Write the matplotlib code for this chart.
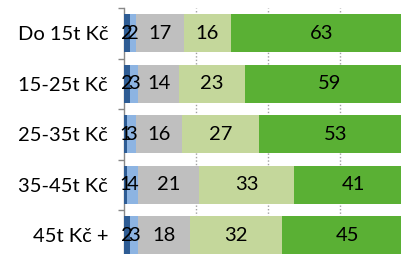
import matplotlib
matplotlib.use("Agg")
import matplotlib.pyplot as plt
import numpy as np

categories = ["Do 15t Kč", "15-25t Kč", "25-35t Kč", "35-45t Kč", "45t Kč +"]
s1 = [2, 2, 1, 1, 2]
s2 = [2, 3, 3, 4, 3]
s3 = [17, 14, 16, 21, 18]
s4 = [16, 23, 27, 33, 32]
s5 = [63, 59, 53, 41, 45]
series = [s1, s2, s3, s4, s5]
colors = ["#2E5C94", "#8DB4E2", "#BFBFBF", "#C4D79B", "#5AB034"]

plt.rcParams['font.family'] = ['Lato', 'DejaVu Sans']

W, H = 401, 254
fig = plt.figure(figsize=(W/100, H/100), dpi=100)
left = 124/W
width = 288/W
top = 1 - 8/H
bottom = 1 - 260.5/H
ax = fig.add_axes([left, bottom, width, top - bottom])

y = np.arange(len(categories))
lefts = np.zeros(len(categories))
for vals, c in zip(series, colors):
    vals = np.array(vals, dtype=float)
    ax.barh(y, vals, left=lefts, height=0.75, color=c, zorder=3)
    for yi, (l, v) in enumerate(zip(lefts, vals)):
        ax.text(l + v/2, yi, f"{int(v)}", ha="center", va="center",
                fontsize=14.5, color="#000000", zorder=4)
    lefts += vals

ax.set_xlim(0, 100)
ax.set_ylim(len(categories) - 0.5, -0.5)
ax.set_yticks(y)
ax.set_yticklabels(categories, fontsize=14.5)
ax.tick_params(axis='y', which='major', length=0, pad=11.5)
ax.set_yticks(np.arange(-0.5, len(categories), 1), minor=True)
ax.tick_params(axis='y', which='minor', length=4, color="#888888", width=1)
ax.set_xticks([25, 50, 75, 100])
ax.tick_params(axis='x', length=0, labelbottom=False)
ax.grid(axis='x', linestyle=(0, (1, 1.5)), color="#A0A0A0", linewidth=1, zorder=0)
for s in ["top", "right", "bottom"]:
    ax.spines[s].set_visible(False)
ax.spines["left"].set_color("#888888")
ax.spines["left"].set_linewidth(1)

fig.text(196/W, 1 + 10/H, "(v % , jednotky)", ha="center", va="center", fontsize=15)

fig.savefig("out.png", dpi=100)
